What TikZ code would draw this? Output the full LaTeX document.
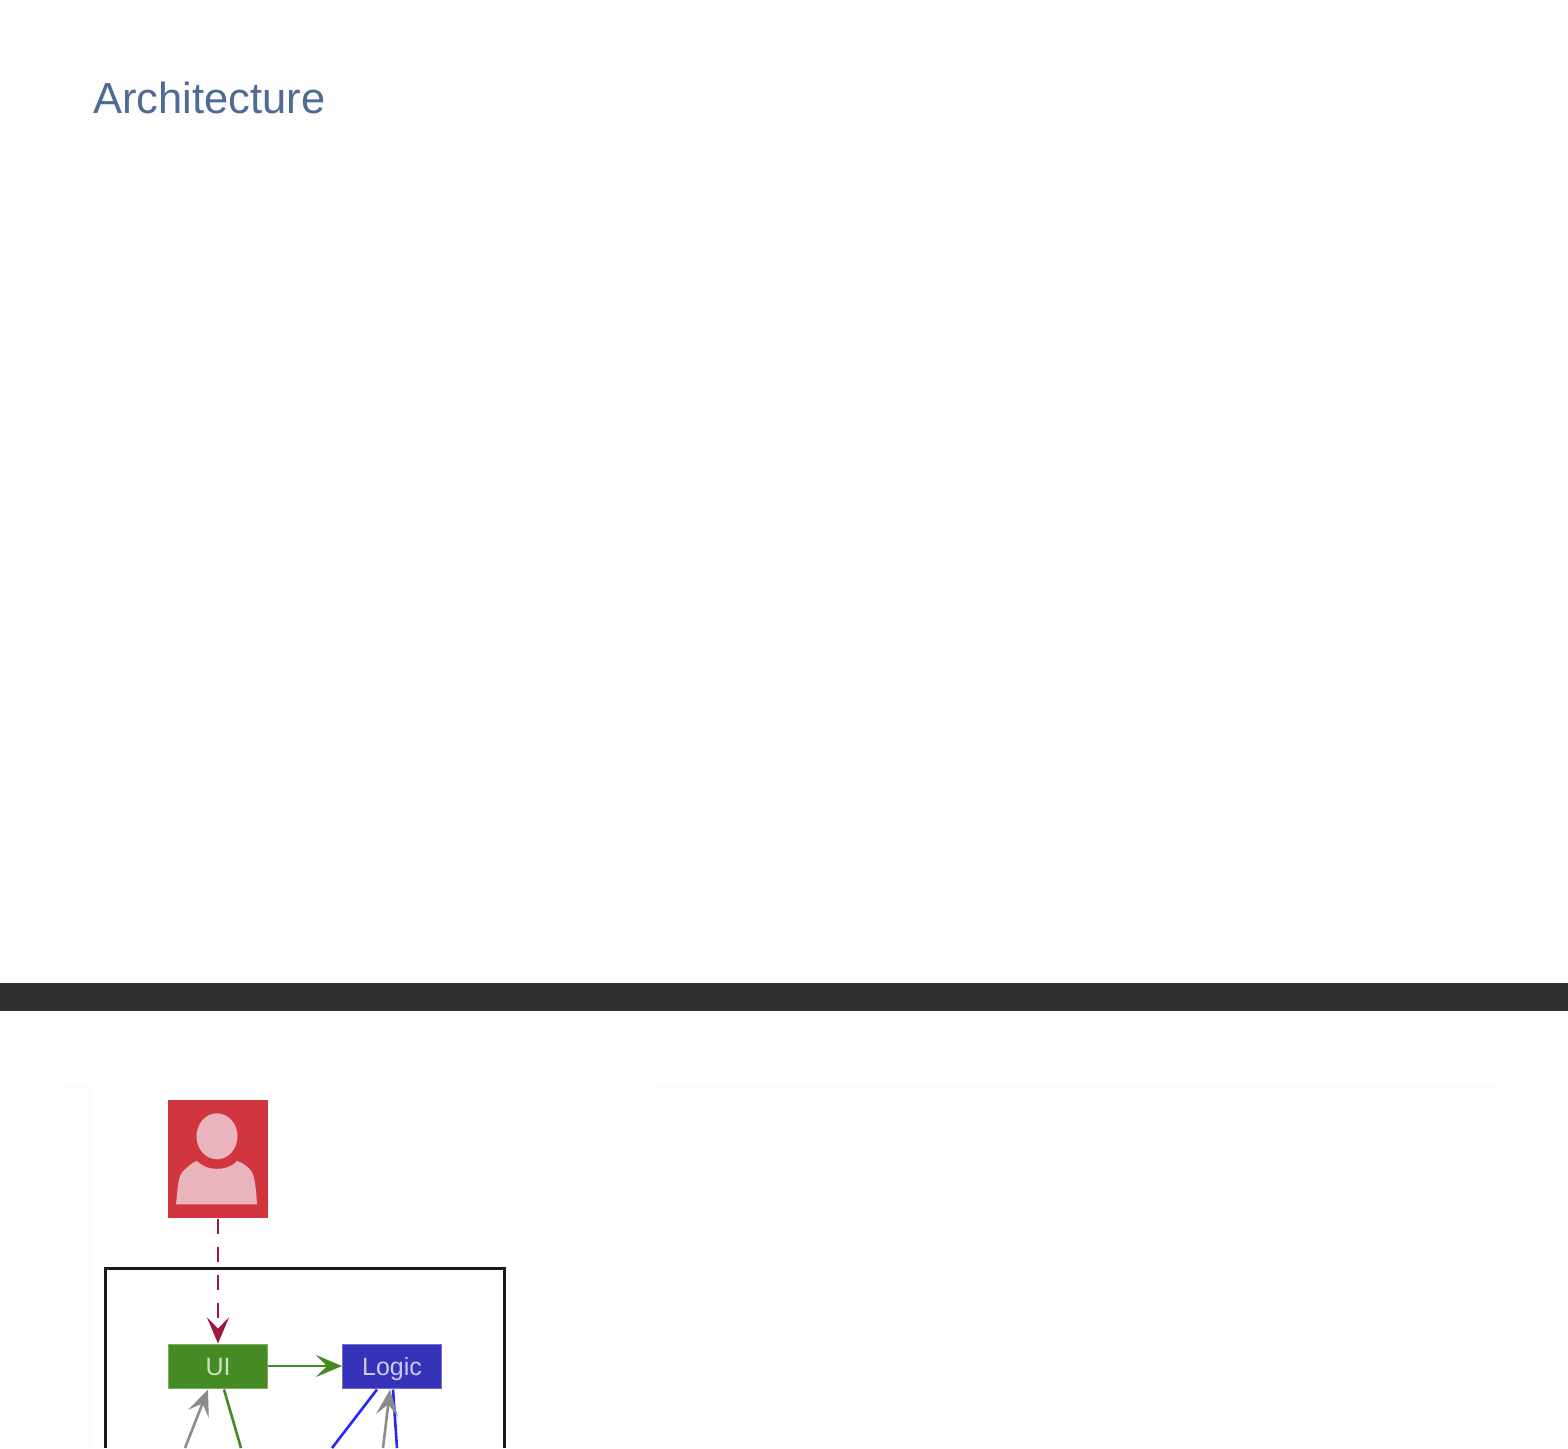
\documentclass[tikz,border=0pt]{standalone}
\usepackage{fontspec}
\setmainfont{Liberation Sans}
\usetikzlibrary{arrows.meta,positioning}
\definecolor{panelgrey}{HTML}{FDFDFD}
\definecolor{barblack}{HTML}{303030}
\definecolor{titleblue}{HTML}{4F6A94}
\definecolor{userred}{HTML}{D13640}
\definecolor{userpink}{HTML}{E9B4BC}
\definecolor{uigreen}{HTML}{458A22}
\definecolor{logicblue}{HTML}{3632BA}
\definecolor{dashred}{HTML}{A0173F}
\definecolor{arrowgrey}{HTML}{8C8C8C}
\tikzstyle{open}=[-{Stealth[length=26pt,width=22pt,inset=11pt]}]
\tikzstyle{link}=[line width=2.6pt]
\tikzstyle{comp}=[rectangle, minimum width=99.4pt, minimum height=44.4pt, inner sep=0pt,
		line width=0.6pt, text=white, text opacity=0.75,
		font=\fontsize{25}{25}\selectfont, text height=21pt, text depth=3pt]
\tikzstyle{panel}=[fill=panelgrey]

\begin{document}
\begin{tikzpicture}[x=1pt,y=-1pt,node distance=74pt]
    \useasboundingbox (0,0) rectangle (1568,1448);

    \fill[panel] (63,0) rectangle (1502,912);
    \fill[barblack] (0,983) rectangle (1568,1011);
    \fill[panel] (63,1085) rectangle (92,1448);
    \fill[panel] (654,1085) rectangle (1502,1448);

    \node (Title) [anchor=base west, inner sep=0pt, text=titleblue,
    		       font=\fontsize{43.5}{43.5}\selectfont] at (93,113) {Architecture};

    \node (UI) [comp, fill=uigreen, draw=uigreen!70!white] at (218,1366) {UI};
    \node (Logic) [comp, fill=logicblue, draw=logicblue!70!white, right=of UI] {Logic};
    \node (User) [rectangle, fill=userred, minimum width=100pt, minimum height=118pt,
    		      inner sep=0pt, above=125pt of UI] {};

    % person icon
    \begin{scope}[shift={(User.center)}]
      \fill[userpink] (-1,-23) ellipse [x radius=20.5, y radius=23];
      \fill[userpink] (-42,45) .. controls (-40,30) and (-41,16) .. (-33,10)
        .. controls (-29,7) and (-26,3) .. (-21,1.7)
        .. controls (-14,8) and (-8,9.5) .. (-1,9.5)
        .. controls (6,9.5) and (13,8) .. (19,1.7)
        .. controls (24,3) and (28,6) .. (32,10)
        .. controls (37,15) and (38,30) .. (39,45) -- cycle;
    \end{scope}

    % frame runs off the bottom of the page
    \coordinate (FrameL) at (105,1448);
    \coordinate (FrameR) at (504.5,1448);
    \coordinate (FrameT) at (305,1268);
    \draw[black!90, line width=3pt] (FrameL) |- (FrameT) -| (FrameR);

    \coordinate (GreyA) at (185,1448);
    \coordinate (GreenA) at (241,1448);
    \coordinate (BlueA) at (332,1448);
    \coordinate (GreyB) at (383,1448);
    \coordinate (BlueB) at (397,1448);

    \draw[link, open, color=dashred, dash pattern=on 15pt off 13pt] (User) -- (UI);
    \draw[link, open, color=uigreen] (UI) -- (Logic);
    \draw[link, open, color=arrowgrey] (GreyA) -- ([xshift=-10pt,yshift=-1pt]UI.south);
    \draw[link, color=uigreen] ([xshift=6pt,yshift=-1pt]UI.south) -- (GreenA);
    \draw[link, color=blue!85!white] ([xshift=-15pt,yshift=-1pt]Logic.south) -- (BlueA);
    \draw[link, color=blue!85!white] ([xshift=1pt,yshift=-1pt]Logic.south) -- (BlueB);
    \draw[link, open, color=arrowgrey] (GreyB) -- ([xshift=-2pt,yshift=-1pt]Logic.south);

  \end{tikzpicture}
\end{document}
